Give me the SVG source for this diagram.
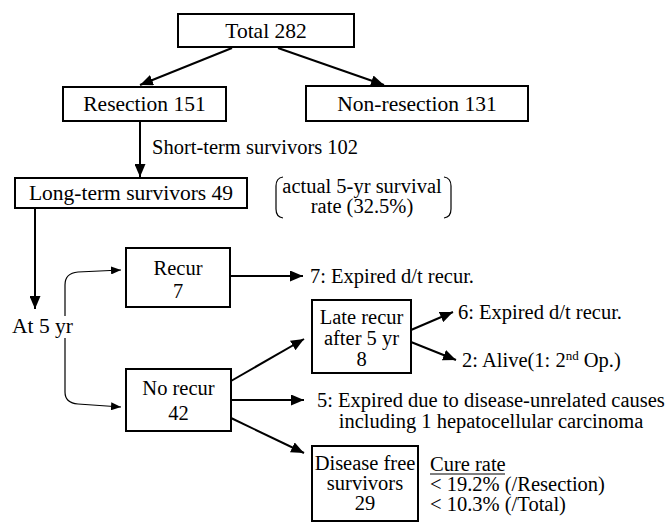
<svg xmlns="http://www.w3.org/2000/svg" width="666" height="525" viewBox="0 0 666 525" font-family="'Liberation Serif','Times New Roman',serif">
<style>
text{font-family:"Liberation Serif","Times New Roman",serif;font-size:20.5px;fill:#000}
.box{fill:#fff;stroke:#000;stroke-width:2}
.c{text-anchor:middle}
.ar{fill:none;stroke:#000;stroke-width:2}
.thin{fill:none;stroke:#000;stroke-width:1.2}
</style>
<defs>
<marker id="ah" markerUnits="userSpaceOnUse" markerWidth="13" markerHeight="11" refX="13" refY="5.5" orient="auto"><path d="M0,0 L13,5.5 L0,11 z" fill="#000"/></marker>
<marker id="ahs" markerUnits="userSpaceOnUse" markerWidth="10" markerHeight="8" refX="10" refY="4" orient="auto"><path d="M0,0 L10,4 L0,8 z" fill="#000"/></marker>
</defs>
<g id="connectors">
<line class="ar" x1="232" y1="48" x2="140" y2="85" marker-end="url(#ah)"/>
<line class="ar" x1="278" y1="48" x2="384" y2="85" marker-end="url(#ah)"/>
<line class="ar" x1="140" y1="121" x2="140" y2="177" marker-end="url(#ah)"/>
<line class="ar" x1="35" y1="208" x2="35" y2="309" marker-end="url(#ah)"/>
<path class="thin" d="M65,316 V285 Q65,273 78,272 L121,270" marker-end="url(#ahs)"/>
<path class="thin" d="M65,338 V392 Q65,403 78,404 L121,407" marker-end="url(#ahs)"/>
<line class="ar" x1="231" y1="276" x2="303" y2="276" marker-end="url(#ah)"/>
<line class="ar" x1="231" y1="381" x2="304" y2="339" marker-end="url(#ah)"/>
<line class="ar" x1="231" y1="400" x2="304" y2="400" marker-end="url(#ah)"/>
<line class="ar" x1="231" y1="418" x2="304" y2="453" marker-end="url(#ah)"/>
<line class="ar" x1="411" y1="330" x2="453" y2="312" marker-end="url(#ah)"/>
<line class="ar" x1="411" y1="342" x2="456" y2="360" marker-end="url(#ah)"/>
</g>
<g id="total"><rect class="box" x="178" y="14" width="176" height="33"/><text class="c" x="266" y="38" style="font-size:21.5px">Total 282</text></g>
<g id="resection"><rect class="box" x="63" y="87" width="163" height="34"/><text class="c" x="144.5" y="111" style="font-size:21.5px">Resection 151</text></g>
<g id="nonresection"><rect class="box" x="306" y="86" width="222" height="35"/><text class="c" x="417" y="111" style="font-size:21.5px">Non-resection 131</text></g>
<g id="shortterm"><text x="152" y="154">Short-term survivors 102</text></g>
<g id="longterm"><rect class="box" x="15" y="178" width="232" height="30"/><text class="c" x="131" y="200" style="font-size:21.5px">Long-term survivors 49</text></g>
<g id="survival-note">
<path class="thin" d="M283,177 Q276,178 276,186 L276,209 Q276,217 283,218"/>
<path class="thin" d="M444,177 Q451,178 451,186 L451,209 Q451,217 444,218"/>
<text class="c" x="362" y="193">actual 5-yr survival</text>
<text class="c" x="362" y="213">rate (32.5%)</text>
</g>
<g id="at5yr"><text x="12" y="333" style="font-size:21.5px">At 5 yr</text></g>
<g id="recur"><rect class="box" x="126" y="248" width="104" height="59"/><text class="c" x="178" y="275">Recur</text><text class="c" x="178" y="298">7</text></g>
<g id="recur-outcome"><text x="310" y="283">7: Expired d/t recur.</text></g>
<g id="laterecur"><rect class="box" x="312" y="300" width="99" height="73"/><text class="c" x="361.5" y="324">Late recur</text><text class="c" x="361.5" y="345">after 5 yr</text><text class="c" x="361.5" y="366">8</text></g>
<g id="late-expired"><text x="458" y="319">6: Expired d/t recur.</text></g>
<g id="late-alive"><text x="462" y="367">2: Alive(1: 2<tspan style="font-size:13px" baseline-shift="super">nd</tspan> Op.)</text></g>
<g id="norecur"><rect class="box" x="126" y="369" width="105" height="62"/><text class="c" x="178.5" y="395">No recur</text><text class="c" x="178.5" y="420">42</text></g>
<g id="unrelated"><text x="317" y="407">5: Expired due to disease-unrelated causes</text><text class="c" x="491" y="428">including 1 hepatocellular carcinoma</text></g>
<g id="diseasefree"><rect class="box" x="312" y="446" width="106" height="75"/><text class="c" x="365" y="470">Disease free</text><text class="c" x="365" y="490">survivors</text><text class="c" x="365" y="510">29</text></g>
<g id="curerate"><text x="430" y="471">Cure rate</text><line x1="430" y1="474" x2="505" y2="474" stroke="#000" stroke-width="1.2"/><text x="430" y="491">&lt; 19.2% (/Resection)</text><text x="430" y="511">&lt; 10.3% (/Total)</text></g>
</svg>
